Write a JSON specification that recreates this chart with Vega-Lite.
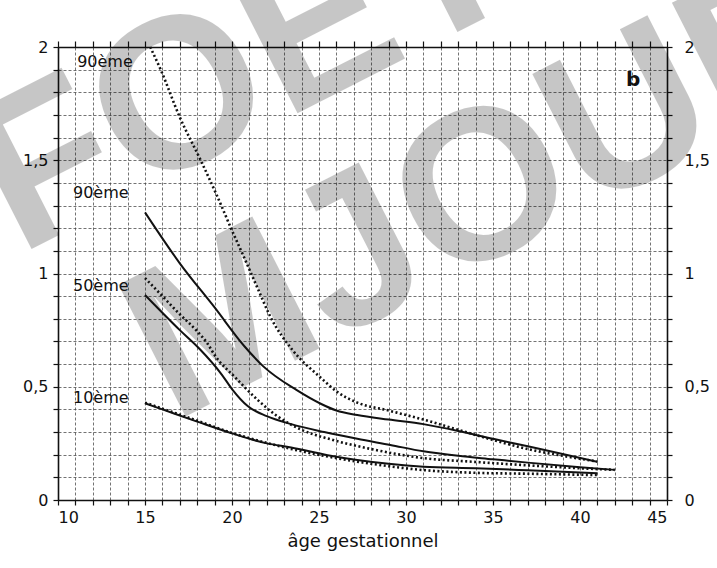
{
  "$schema": "https://vega.github.io/schema/vega-lite/v6.json",
  "width": 609,
  "height": 453,
  "autosize": {"type": "none"},
  "padding": {"left": 58, "top": 47, "right": 50, "bottom": 68},
  "background": "white",
  "config": {
    "view": {"stroke": null},
    "font": "DejaVu Sans",
    "axis": {
      "domainColor": "#111", "domainWidth": 1.6,
      "tickColor": "#111", "tickWidth": 1.2,
      "labelColor": "#111", "labelFont": "DejaVu Sans", "labelFontSize": 16,
      "gridColor": "#444", "gridDash": [3, 2], "gridOpacity": 0.75, "gridWidth": 1,
      "titleFont": "DejaVu Sans", "titleFontSize": 18, "titleFontWeight": "normal", "titleColor": "#111"
    }
  },
  "datasets": {
    "watermark": [
      {"word": "FOETUS", "age": 7.75, "value": 1.08},
      {"word": "MJOUR", "age": 16.6, "value": 0.34}
    ],
    "solid": [
      {"series": "90ème", "age": 15, "value": 1.27},
      {"series": "90ème", "age": 17, "value": 1.045},
      {"series": "90ème", "age": 19, "value": 0.85},
      {"series": "90ème", "age": 20.7, "value": 0.68},
      {"series": "90ème", "age": 21.8, "value": 0.59},
      {"series": "90ème", "age": 23.7, "value": 0.486},
      {"series": "90ème", "age": 25.1, "value": 0.425},
      {"series": "90ème", "age": 26, "value": 0.395},
      {"series": "90ème", "age": 27.2, "value": 0.375},
      {"series": "90ème", "age": 29, "value": 0.355},
      {"series": "90ème", "age": 31, "value": 0.335},
      {"series": "90ème", "age": 33, "value": 0.305},
      {"series": "90ème", "age": 35, "value": 0.27},
      {"series": "90ème", "age": 37, "value": 0.237},
      {"series": "90ème", "age": 39, "value": 0.203},
      {"series": "90ème", "age": 41, "value": 0.168},
      {"series": "50ème", "age": 15, "value": 0.905},
      {"series": "50ème", "age": 17, "value": 0.75},
      {"series": "50ème", "age": 18.1, "value": 0.67},
      {"series": "50ème", "age": 19.4, "value": 0.555},
      {"series": "50ème", "age": 20, "value": 0.49},
      {"series": "50ème", "age": 20.9, "value": 0.415},
      {"series": "50ème", "age": 22, "value": 0.37},
      {"series": "50ème", "age": 23.4, "value": 0.335},
      {"series": "50ème", "age": 25.3, "value": 0.3},
      {"series": "50ème", "age": 27.2, "value": 0.27},
      {"series": "50ème", "age": 29.1, "value": 0.243},
      {"series": "50ème", "age": 31, "value": 0.215},
      {"series": "50ème", "age": 33, "value": 0.195},
      {"series": "50ème", "age": 35, "value": 0.18},
      {"series": "50ème", "age": 37, "value": 0.165},
      {"series": "50ème", "age": 40, "value": 0.145},
      {"series": "50ème", "age": 42, "value": 0.133},
      {"series": "10ème", "age": 15, "value": 0.427},
      {"series": "10ème", "age": 16, "value": 0.4},
      {"series": "10ème", "age": 18, "value": 0.346},
      {"series": "10ème", "age": 20, "value": 0.294},
      {"series": "10ème", "age": 22, "value": 0.25},
      {"series": "10ème", "age": 23.4, "value": 0.232},
      {"series": "10ème", "age": 25.5, "value": 0.198},
      {"series": "10ème", "age": 27.2, "value": 0.177},
      {"series": "10ème", "age": 29, "value": 0.16},
      {"series": "10ème", "age": 31, "value": 0.147},
      {"series": "10ème", "age": 34, "value": 0.14},
      {"series": "10ème", "age": 37, "value": 0.131},
      {"series": "10ème", "age": 41, "value": 0.118}
    ],
    "dotted": [
      {"series": "90ème", "age": 15.3, "value": 2.0},
      {"series": "90ème", "age": 15.9, "value": 1.9},
      {"series": "90ème", "age": 17.0, "value": 1.69},
      {"series": "90ème", "age": 18.2, "value": 1.5},
      {"series": "90ème", "age": 19.1, "value": 1.35},
      {"series": "90ème", "age": 20.0, "value": 1.19},
      {"series": "90ème", "age": 20.7, "value": 1.07},
      {"series": "90ème", "age": 21.5, "value": 0.93},
      {"series": "90ème", "age": 22.2, "value": 0.81},
      {"series": "90ème", "age": 23.5, "value": 0.66},
      {"series": "90ème", "age": 25.1, "value": 0.54},
      {"series": "90ème", "age": 26.0, "value": 0.48},
      {"series": "90ème", "age": 27.2, "value": 0.43},
      {"series": "90ème", "age": 29.0, "value": 0.395},
      {"series": "90ème", "age": 31.0, "value": 0.355},
      {"series": "90ème", "age": 33.0, "value": 0.31},
      {"series": "90ème", "age": 35.0, "value": 0.265},
      {"series": "90ème", "age": 37.0, "value": 0.225},
      {"series": "90ème", "age": 39.0, "value": 0.195},
      {"series": "90ème", "age": 41.0, "value": 0.17},
      {"series": "50ème", "age": 15, "value": 0.98},
      {"series": "50ème", "age": 16, "value": 0.9},
      {"series": "50ème", "age": 17, "value": 0.82},
      {"series": "50ème", "age": 18, "value": 0.745},
      {"series": "50ème", "age": 18.6, "value": 0.69},
      {"series": "50ème", "age": 19, "value": 0.64},
      {"series": "50ème", "age": 20.2, "value": 0.54},
      {"series": "50ème", "age": 21.5, "value": 0.44},
      {"series": "50ème", "age": 22.6, "value": 0.37},
      {"series": "50ème", "age": 24, "value": 0.31},
      {"series": "50ème", "age": 25.8, "value": 0.265},
      {"series": "50ème", "age": 28, "value": 0.225},
      {"series": "50ème", "age": 31, "value": 0.185},
      {"series": "50ème", "age": 34, "value": 0.168},
      {"series": "50ème", "age": 37, "value": 0.153},
      {"series": "50ème", "age": 40, "value": 0.14},
      {"series": "50ème", "age": 42, "value": 0.133},
      {"series": "10ème", "age": 15, "value": 0.43},
      {"series": "10ème", "age": 18, "value": 0.35},
      {"series": "10ème", "age": 20, "value": 0.296},
      {"series": "10ème", "age": 22, "value": 0.252},
      {"series": "10ème", "age": 24, "value": 0.215},
      {"series": "10ème", "age": 26, "value": 0.185},
      {"series": "10ème", "age": 28, "value": 0.16},
      {"series": "10ème", "age": 31, "value": 0.132},
      {"series": "10ème", "age": 34, "value": 0.12},
      {"series": "10ème", "age": 37, "value": 0.116},
      {"series": "10ème", "age": 41, "value": 0.11}
    ],
    "labels": [
      {"text": "90ème", "age": 11.1, "value": 1.934},
      {"text": "90ème", "age": 10.86, "value": 1.355},
      {"text": "50ème", "age": 10.86, "value": 0.945},
      {"text": "10ème", "age": 10.86, "value": 0.45}
    ],
    "panel": [
      {"text": "b", "age": 43.05, "value": 1.854}
    ]
  },
  "layer": [
    {
      "data": {"name": "watermark"},
      "mark": {"type": "text", "angle": -27, "align": "left", "baseline": "alphabetic", "font": "Liberation Sans", "fontWeight": "bold", "fontSize": 215, "color": "black", "opacity": 0.22},
      "encoding": {
        "x": {"field": "age", "type": "quantitative", "scale": {"domain": [10, 45], "nice": false, "zero": false}, "axis": null},
        "y": {"field": "value", "type": "quantitative", "scale": {"domain": [0, 2], "nice": false}, "axis": null},
        "text": {"field": "word"}
      }
    },
    {
      "data": {"name": "solid"},
      "mark": {"type": "line", "interpolate": "monotone", "color": "#111", "strokeWidth": 2},
      "encoding": {
        "x": {"field": "age", "type": "quantitative", "scale": {"domain": [10, 45], "nice": false, "zero": false},
          "axis": {"orient": "bottom", "values": [10,11,12,13,14,15,16,17,18,19,20,21,22,23,24,25,26,27,28,29,30,31,32,33,34,35,36,37,38,39,40,41,42,43,44,45],
            "labelExpr": "datum.value % 5 == 0 ? datum.label : ''", "tickSize": 5, "labelPadding": 4, "grid": true,
            "title": "âge gestationnel", "titlePadding": 7}},
        "y": {"field": "value", "type": "quantitative", "scale": {"domain": [0, 2], "nice": false},
          "axis": {"orient": "left", "values": [0,0.1,0.2,0.3,0.4,0.5,0.6,0.7,0.8,0.9,1,1.1,1.2,1.3,1.4,1.5,1.6,1.7,1.8,1.9,2],
            "labelExpr": "abs(datum.value*2 - round(datum.value*2)) < 0.001 ? replace(format(datum.value, ''), '.', ',') : ''",
            "tickSize": 5, "labelPadding": 5, "grid": true, "title": null}},
        "detail": {"field": "series"}
      }
    },
    {
      "data": {"name": "dotted"},
      "mark": {"type": "line", "interpolate": "monotone", "color": "#111", "strokeWidth": 2.6, "strokeDash": [2, 2.5]},
      "encoding": {
        "x": {"field": "age", "type": "quantitative", "scale": {"domain": [10, 45], "nice": false, "zero": false},
          "axis": {"orient": "top", "values": [10,11,12,13,14,15,16,17,18,19,20,21,22,23,24,25,26,27,28,29,30,31,32,33,34,35,36,37,38,39,40,41,42,43,44,45],
            "labels": false, "tickSize": 6, "grid": false, "title": null}},
        "y": {"field": "value", "type": "quantitative", "scale": {"domain": [0, 2], "nice": false},
          "axis": {"orient": "right", "values": [0,0.1,0.2,0.3,0.4,0.5,0.6,0.7,0.8,0.9,1,1.1,1.2,1.3,1.4,1.5,1.6,1.7,1.8,1.9,2],
            "labelExpr": "abs(datum.value*2 - round(datum.value*2)) < 0.001 ? replace(format(datum.value, ''), '.', ',') : ''",
            "tickSize": 5, "labelPadding": 12, "grid": false, "title": null}},
        "detail": {"field": "series"}
      }
    },
    {
      "data": {"name": "labels"},
      "mark": {"type": "text", "align": "left", "baseline": "middle", "font": "DejaVu Sans", "fontSize": 16, "color": "#111"},
      "encoding": {
        "x": {"field": "age", "type": "quantitative", "scale": {"domain": [10, 45], "nice": false, "zero": false}, "axis": null},
        "y": {"field": "value", "type": "quantitative", "scale": {"domain": [0, 2], "nice": false}, "axis": null},
        "text": {"field": "text"}
      }
    },
    {
      "data": {"name": "panel"},
      "mark": {"type": "text", "align": "center", "baseline": "middle", "font": "DejaVu Sans", "fontWeight": "bold", "fontSize": 20, "color": "#111"},
      "encoding": {
        "x": {"field": "age", "type": "quantitative", "scale": {"domain": [10, 45], "nice": false, "zero": false}, "axis": null},
        "y": {"field": "value", "type": "quantitative", "scale": {"domain": [0, 2], "nice": false}, "axis": null},
        "text": {"field": "text"}
      }
    }
  ],
  "resolve": {"axis": {"x": "independent", "y": "independent"}}
}
